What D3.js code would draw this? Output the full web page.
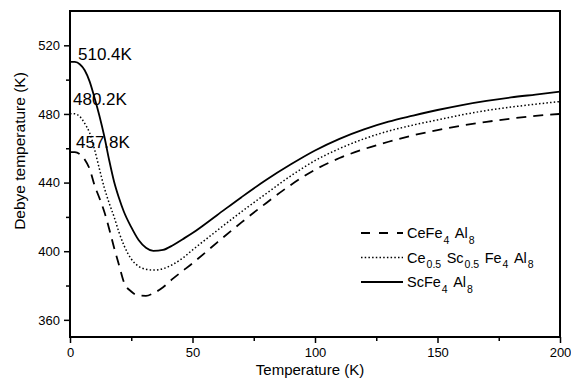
<!DOCTYPE html>
<html>
<head>
<meta charset="utf-8">
<script src="https://cdn.jsdelivr.net/npm/d3@7"></script>
<style>
  body { margin: 0; background: #fff; }
  text { font-family: "Liberation Sans", Arial, sans-serif; fill: #000; }
</style>
</head>
<body>
<div id="canvas"></div>
<script>
"use strict"

let svgWidth = 571;
let svgHeight = 381;
let plot = {left: 70, right: 560, top: 11, bottom: 337};

/* Data */
let temps = [0, 2, 4, 6, 8, 10, 12, 14, 16, 18, 20, 22, 25, 28, 31, 34, 38, 42, 46, 50,
             60, 70, 80, 90, 100, 110, 120, 130, 140, 150, 160, 170, 180, 190, 200];

let ceValues = [457.8, 457.7, 456.5, 453.5, 448, 438.5, 431, 423, 413, 402, 392, 382, 376.5, 374.2, 374, 375.5, 379, 384, 388.5, 393,
                405, 416.8, 428, 438.5, 447.5, 454.3, 459.5, 463.8, 467.5, 470.6, 473.2, 475.4, 477.3, 478.9, 480];

let mixValues = [480.2, 480.1, 478.5, 474.5, 469, 459.5, 448, 437, 428, 420, 411, 403.5, 395.5, 391.2, 389.5, 389, 389.8, 392.3, 396, 400.7,
                 412, 423, 433.5, 443.8, 452.8, 459.8, 465.5, 470, 473.5, 476.5, 479.5, 482, 484, 485.7, 487.2];

let scValues = [510.4, 510.3, 509, 505.5, 499, 489.5, 479, 467, 453, 440.5, 431, 423, 414, 406.5, 402, 400.2, 400.8, 403.5, 407, 410.6,
                421, 431.5, 441.5, 450.5, 458.7, 465.5, 471, 475.5, 479, 482.3, 485.2, 487.6, 489.6, 491.3, 493];

/* series names as [text, subscript] pieces */
let seriesNames = [
    [["Ce", 0], ["Fe", 0], ["4", 1], ["Al", 0], ["8", 1]],
    [["Ce", 0], ["0.5", 1], ["Sc", 0], ["0.5", 1], ["Fe", 0], ["4", 1], ["Al", 0], ["8", 1]],
    [["Sc", 0], ["Fe", 0], ["4", 1], ["Al", 0], ["8", 1]]
];

let startLabels = ["457.8K", "480.2K", "510.4K"];

let xMajorTicks = [0, 50, 100, 150, 200];
let xMinorTicks = [25, 75, 125, 175];
let yMajorTicks = [360, 400, 440, 480, 520];
let yMinorTicks = [380, 420, 460, 500];

let series = [
    {values: ceValues, dash: "10,7", legendDash: "9,9", width: 1.8},
    {values: mixValues, dash: "1.5,2.2", legendDash: "1.5,2.2", width: 1.5},
    {values: scValues, dash: null, legendDash: null, width: 1.8}
];

/* Create drawing canvas */
let svg = d3.select("#canvas")
    .append("svg")
    .attr("width", svgWidth)
    .attr("height", svgHeight);

/* Scales */
let xScale = d3.scaleLinear()
    .domain([0, 200])
    .range([plot.left, plot.right]);

let yScale = d3.scaleLinear()
    .domain([350, 540])
    .range([plot.bottom, plot.top]);

/* Axes */
svg.append("g")
    .attr("transform", "translate(0," + plot.bottom + ")")
    .call(d3.axisBottom(xScale).tickValues(xMajorTicks).tickSize(6).tickPadding(5));

svg.append("g")
    .attr("transform", "translate(0," + plot.bottom + ")")
    .call(d3.axisBottom(xScale).tickValues(xMinorTicks).tickSize(4).tickFormat(""));

svg.append("g")
    .attr("transform", "translate(" + plot.left + ",0)")
    .call(d3.axisLeft(yScale).tickValues(yMajorTicks).tickSize(6).tickPadding(4));

svg.append("g")
    .attr("transform", "translate(" + plot.left + ",0)")
    .call(d3.axisLeft(yScale).tickValues(yMinorTicks).tickSize(4).tickFormat(""));

svg.selectAll(".domain").remove();
svg.selectAll(".tick line").attr("stroke", "black").attr("stroke-width", 1.5);
svg.selectAll(".tick text")
    .style("font-family", "'Liberation Sans', Arial, sans-serif")
    .style("font-size", "13px")
    .attr("fill", "black");

/* frame */
svg.append("rect")
    .attr("x", plot.left)
    .attr("y", plot.top)
    .attr("width", plot.right - plot.left)
    .attr("height", plot.bottom - plot.top)
    .attr("fill", "none")
    .attr("stroke", "black")
    .attr("stroke-width", 2);

/* Curves */
let line = d3.line()
    .x((d, i) => xScale(temps[i]))
    .y(d => yScale(d))
    .curve(d3.curveMonotoneX);

series.forEach(function(s){
    svg.append("path")
       .attr("d", line(s.values))
       .attr("fill", "none")
       .attr("stroke", "black")
       .attr("stroke-width", s.width)
       .attr("stroke-dasharray", s.dash);
});

/* Start value annotations */
let labelOffsets = [{dx: 6, dy: -4}, {dx: 3, dy: -9}, {dx: 8, dy: -2}];
startLabels.forEach(function(label, i){
    svg.append("text")
       .attr("x", xScale(0) + labelOffsets[i].dx)
       .attr("y", yScale(series[i].values[0]) + labelOffsets[i].dy)
       .style("font-size", "17px")
       .text(label);
});

/* Axis titles */
svg.append("text")
   .attr("x", 310)
   .attr("y", 375)
   .attr("text-anchor", "middle")
   .style("font-size", "15px")
   .text("Temperature (K)");

svg.append("text")
   .attr("transform", "rotate(-90)")
   .attr("x", -151)
   .attr("y", 25)
   .attr("text-anchor", "middle")
   .style("font-size", "15.5px")
   .text("Debye temperature (K)");

/* Legend */
let legendX = 361;
let legendY = 233;
let legendStep = 24.5;

seriesNames.forEach(function(parts, i){
    let y = legendY + i * legendStep;
    svg.append("line")
       .attr("x1", legendX)
       .attr("x2", legendX + 42)
       .attr("y1", y)
       .attr("y2", y)
       .attr("stroke", "black")
       .attr("stroke-width", series[i].width)
       .attr("stroke-dasharray", series[i].legendDash);

    let t = svg.append("text")
       .attr("x", legendX + 46)
       .attr("y", y + 5)
       .style("font-size", "14.5px");

    let shifted = false;
    parts.forEach(function(p){
        let span = t.append("tspan").text(p[0]);
        if (p[1] && !shifted) {
            span.attr("dy", 5.5).attr("dx", 1).style("font-size", "10.5px");
            shifted = true;
        } else if (!p[1] && shifted) {
            span.attr("dy", -5.5).attr("dx", 5.5);
            shifted = false;
        }
    });
});
</script>
</body>
</html>
